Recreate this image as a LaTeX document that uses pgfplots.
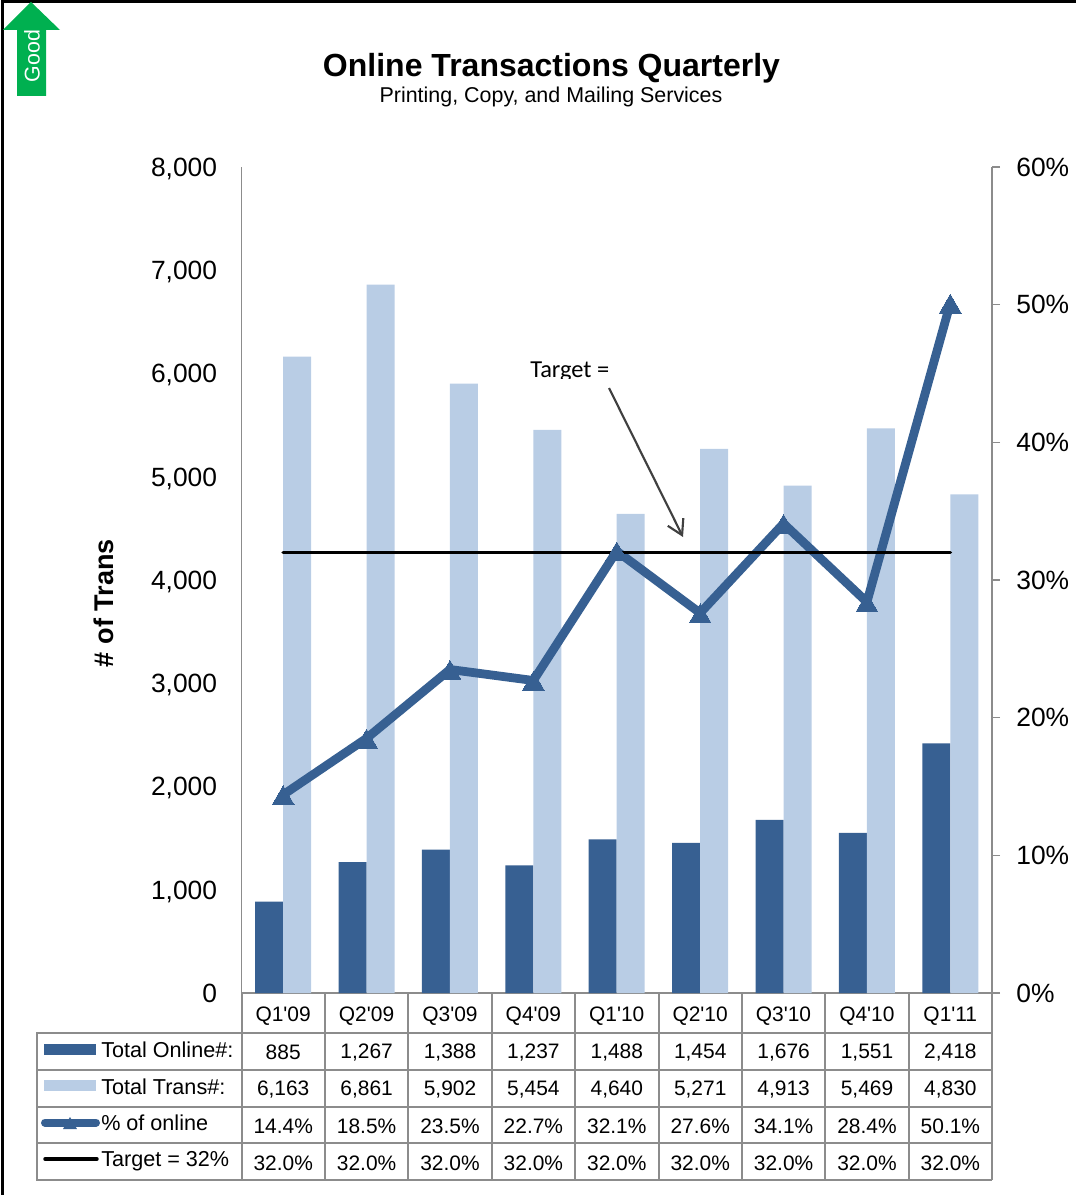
\documentclass[border=0pt]{standalone}
\usepackage{fontspec}
\setmainfont{Liberation Sans}
\newfontfamily\plainsans{Liberation Sans}
\newfontfamily\calibrilike{Carlito}
\usepackage{pgfplots}
\pgfplotsset{compat=1.18}
\usetikzlibrary{arrows.meta}
\definecolor{onlineblue}{HTML}{376092}
\definecolor{transblue}{HTML}{B9CDE5}
\definecolor{axisgray}{HTML}{8C8C8C}
\definecolor{goodgreen}{HTML}{00B050}
\definecolor{calloutgray}{HTML}{404040}
\pgfplotstableread{
idx online trans pct target
0 885 6163 14.4 32
1 1267 6861 18.5 32
2 1388 5902 23.5 32
3 1237 5454 22.7 32
4 1488 4640 32.1 32
5 1454 5271 27.6 32
6 1676 4913 34.1 32
7 1551 5469 28.4 32
8 2418 4830 50.1 32
}\quarterly
\newcommand{\tickfont}{\fontsize{19.8pt}{22pt}\selectfont}
\newcommand{\cellfont}{\plainsans\fontsize{15.7pt}{18pt}\selectfont}
\newcommand{\headfont}{\plainsans\fontsize{16.2pt}{18pt}\selectfont}
\begin{document}
\begin{tikzpicture}
\useasboundingbox (0,0) rectangle (807pt,-896.25pt);
% left axis: transaction counts as bars
\begin{axis}[
  at={(181.1pt,-744.75pt)}, anchor=south west,
  scale only axis, width=562.9pt, height=619.5pt,
  xmin=-0.5, xmax=8.5, ymin=0, ymax=8000,
  axis y line*=left, axis x line*=bottom,
  axis line style={draw=axisgray, line width=1.2pt, -},
  xtick=data,
  xticklabels={Q1'09,Q2'09,Q3'09,Q4'09,Q1'10,Q2'10,Q3'10,Q4'10,Q1'11},
  xtick style={draw=none},
  xticklabel style={font=\cellfont, yshift=-7.2pt},
  ytick={0,1000,...,8000},
  ytick style={draw=none},
  yticklabel style={font=\tickfont, xshift=-14.75pt, text height=14.2pt, text depth=0pt},
  /pgf/number format/assume math mode=true,
  /pgf/number format/.cd, 1000 sep={,}, /pgfplots/.cd,
  scaled y ticks=false,
  every axis y label/.style={at={(axis description cs:-0.183,0.472)}, rotate=90, anchor=center},
  ylabel={\fontsize{20.3pt}{22pt}\selectfont\bfseries \# of Trans},
  clip=false,
]
\addplot[ybar, bar width=21pt, bar shift=-10.5pt, fill=onlineblue, draw=none] table[x=idx, y=online] {\quarterly};
\addplot[ybar, bar width=21pt, bar shift=10.5pt, fill=transblue, draw=none] table[x=idx, y=trans] {\quarterly};
\end{axis}
% right axis: online share and the target line
\begin{axis}[
  at={(181.1pt,-744.75pt)}, anchor=south west,
  scale only axis, width=562.9pt, height=619.5pt,
  xmin=-0.5, xmax=8.5, ymin=0, ymax=60,
  axis y line*=right, axis x line=none,
  axis line style={draw=axisgray, line width=1.2pt, -},
  ytick={0,10,...,60},
  ytick align=outside, ytick pos=right,
  tick style={draw=axisgray, line width=1.2pt},
  major tick length=6pt,
  yticklabel={\pgfmathprintnumber{\tick}\%},
  yticklabel style={font=\tickfont, xshift=8.75pt},
  /pgf/number format/assume math mode=true,
  clip=false,
]
\addplot[draw=onlineblue, line width=6.6pt, line join=miter, mark=triangle*, mark size=9.4pt,
  mark options={fill=onlineblue, draw=onlineblue, line width=0pt, yshift=-2.6pt}] table[x=idx, y=pct] {\quarterly};
\addplot[draw=black, line width=2.8pt, line cap=round, mark=none] table[x=idx, y=target] {\quarterly};
\end{axis}
% page furniture, data table and callout, laid out in pixel units
\begin{scope}[x=0.75pt, y=-0.75pt]
  \draw[black, line width=2pt] (2.2,1196) -- (2.2,1.4) -- (1076,1.4);
  \fill[goodgreen] (31,2) -- (60,30) -- (46,30) -- (46,96) -- (17,96) -- (17,30) -- (3,30) -- cycle;
  \node[white, rotate=90, font=\fontsize{16pt}{18pt}\selectfont] at (32,56) {Good};
  \node[font=\fontsize{24pt}{27pt}\selectfont\bfseries] at (551.5,68) {Online Transactions Quarterly};
  \node[font=\fontsize{16.08pt}{18pt}\selectfont] at (551,97) {Printing, Copy, and Mailing Services};
  % callout, its label cut off along the lower edge of its box
  \begin{scope}
    \clip (520,350) rectangle (620,378);
    \node[anchor=base west, inner sep=0pt, font=\calibrilike\fontsize{18.3pt}{20pt}\selectfont] at (530,377) {Target =};
  \end{scope}
  \draw[calloutgray, line width=1.6pt, -{Straight Barb[length=11pt,width=13pt]}] (609,388) -- (683,537);
  % table grid
  \begin{scope}[axisgray, line width=1.5pt]
    \draw (36.5,1033) rectangle (241.5,1180);
    \foreach \yy in {1070,1106.5,1143} \draw (36.5,\yy) -- (992,\yy);
    \draw (241.5,1033) -- (992,1033) (241.5,1180) -- (992,1180);
    \foreach \xx in {241.5,325,408.4,491.8,575.2,658.6,742,825.4,908.8,992} \draw (\xx,993) -- (\xx,1180);
  \end{scope}
  % legend keys
  \fill[onlineblue] (44,1044) rectangle (96,1055);
  \fill[transblue] (44,1080) rectangle (96,1091);
  \draw[onlineblue, line width=6pt, line cap=round] (45,1122.5) -- (96,1122.5);
  \fill[onlineblue] (63,1129) -- (77,1129) -- (70,1117) -- cycle;
  \draw[black, line width=2.6pt, line cap=round] (45,1159) -- (97,1159);
  % row headings
  \foreach \yy/\txt in {1050/Total Online\#:, 1086.5/Total Trans\#:, 1123/\% of online, 1161.5/Target = 32\%}
    \node[anchor=west, inner sep=0pt, font=\headfont] at (101,\yy) {\txt};
  % row values
  \foreach \yy/\row in {
      1052.5/{885,{1,267},{1,388},{1,237},{1,488},{1,454},{1,676},{1,551},{2,418}},
      1090/{{6,163},{6,861},{5,902},{5,454},{4,640},{5,271},{4,913},{5,469},{4,830}},
      1126/{14.4\%,18.5\%,23.5\%,22.7\%,32.1\%,27.6\%,34.1\%,28.4\%,50.1\%},
      1163/{32.0\%,32.0\%,32.0\%,32.0\%,32.0\%,32.0\%,32.0\%,32.0\%,32.0\%}} {
    \foreach \cell [count=\c from 0] in \row
      \node[inner sep=0pt, font=\cellfont] at ({283.2+83.4*\c},\yy) {\cell};
  }
\end{scope}
\end{tikzpicture}
\end{document}
